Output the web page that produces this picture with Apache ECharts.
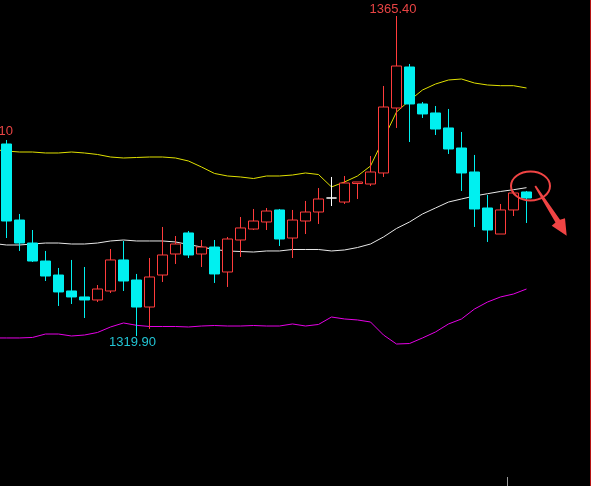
<!DOCTYPE html>
<html>
<head>
<meta charset="utf-8">
<script src="https://cdn.jsdelivr.net/npm/echarts@6/dist/echarts.min.js"></script>
<style>
html,body{margin:0;padding:0;background:#000;}
#main{width:591px;height:486px;}
</style>
</head>
<body>
<div id="main"></div>
<script>
// OHLC values (visible bars)
const open  = [1347.20,1336.39,1333.12,1330.56,1328.57,1326.30,1325.45,1325.02,1326.30,1330.71,1327.86,1324.02,1328.57,1331.56,1334.55,1331.56,1332.55,1329.00,1333.55,1335.11,1336.11,1337.82,1333.83,1336.25,1337.53,1339.52,1338.95,1341.58,1341.51,1343.08,1352.32,1358.15,1352.89,1351.61,1349.48,1346.63,1343.22,1338.10,1334.40,1337.82,1340.38];
const close = [1336.25,1333.12,1330.56,1328.43,1326.16,1325.45,1325.02,1326.58,1330.71,1327.72,1324.02,1328.29,1331.42,1332.98,1331.42,1332.55,1328.72,1333.69,1335.26,1336.25,1337.67,1333.69,1336.39,1337.53,1339.38,1339.52,1341.65,1341.80,1343.22,1352.46,1358.29,1352.89,1351.47,1349.33,1346.49,1343.08,1337.96,1334.97,1337.82,1340.23,1339.52];
const high  = [1347.77,1337.25,1334.97,1331.99,1329.57,1330.71,1329.71,1327.15,1332.27,1333.41,1328.72,1330.99,1335.40,1334.12,1334.83,1333.55,1333.55,1333.98,1336.82,1337.96,1338.10,1337.96,1337.82,1339.10,1340.94,1342.51,1342.65,1341.80,1345.49,1355.45,1365.40,1358.58,1353.17,1352.60,1352.18,1348.91,1345.64,1339.95,1338.67,1340.52,1340.52];
const low   = [1333.83,1331.99,1330.42,1327.72,1324.17,1324.45,1322.46,1324.73,1326.01,1326.30,1319.90,1320.90,1327.58,1330.14,1330.99,1329.71,1327.44,1326.87,1331.13,1334.97,1334.97,1332.70,1330.99,1334.40,1335.83,1338.38,1338.67,1339.38,1341.23,1342.51,1349.48,1347.48,1350.90,1348.48,1345.78,1340.52,1335.40,1333.27,1334.40,1336.96,1335.97];
// Bollinger bands; first value belongs to the bar just left of the view
const bollUpper = [1346.42,1346.20,1346.06,1346.06,1345.92,1345.92,1346.06,1345.92,1345.71,1345.35,1345.21,1345.28,1345.35,1345.35,1345.21,1344.78,1343.93,1343.01,1342.65,1342.51,1342.29,1342.65,1342.65,1342.79,1343.08,1342.86,1341.09,1341.80,1342.65,1344.07,1347.91,1351.75,1353.39,1354.88,1355.73,1356.30,1356.44,1355.87,1355.59,1355.49,1355.49,1355.16];
const bollMid   = [1333.05,1332.84,1332.84,1332.98,1333.12,1333.12,1332.98,1332.98,1333.12,1333.41,1333.55,1333.41,1333.41,1333.41,1333.27,1332.91,1332.55,1332.20,1331.99,1331.91,1331.84,1331.99,1331.99,1332.20,1332.20,1332.20,1331.99,1332.13,1332.48,1332.98,1333.98,1335.19,1336.11,1337.25,1338.10,1338.95,1339.38,1339.81,1340.13,1340.45,1340.70,1340.99];
const bollLower = [1319.62,1319.62,1319.62,1319.69,1320.18,1320.18,1319.90,1320.04,1320.40,1321.18,1321.75,1321.42,1321.25,1321.25,1321.25,1321.18,1321.32,1321.39,1321.32,1321.32,1321.39,1321.32,1321.32,1321.61,1321.32,1321.54,1322.60,1322.32,1322.18,1321.89,1320.04,1318.76,1318.83,1319.62,1320.47,1321.61,1322.32,1323.74,1324.73,1325.45,1325.87,1326.58];
// high of the off-screen bar just left of the view (only the tail of its label shows)
const prevHigh = 1348.10;
const categories = bollMid.map((_, i) => String(i));
const yRange = [1298.57, 1367.675];

const candleData = [['-', '-', '-', '-']].concat(open.map((o, i) => [o, close[i], low[i], high[i]]));

const chart = echarts.init(document.getElementById('main'), null, {renderer: 'canvas'});
chart.setOption({
  backgroundColor: '#000000',
  animation: false,
  grid: {left: -13, right: 58, top: 0, bottom: 0, containLabel: false, outerBoundsMode: 'none'},
  xAxis: {type: 'category', data: categories, show: false, boundaryGap: true},
  yAxis: {type: 'value', min: yRange[0], max: yRange[1], show: false, splitLine: {show: false}},
  series: [
    {type: 'line', data: bollUpper, symbol: 'none', lineStyle: {width: 1, color: '#e0e000'}, z: 1},
    {type: 'line', data: bollMid, symbol: 'none', lineStyle: {width: 1, color: '#e8e8e8'}, z: 1},
    {type: 'line', data: bollLower, symbol: 'none', lineStyle: {width: 1, color: '#e600e6'}, z: 1},
    {
      type: 'candlestick', data: candleData, barWidth: 10, z: 3,
      itemStyle: {
        color: '#000000', color0: '#00f0f0',
        borderColor: '#ff3c3c', borderColor0: '#00f0f0',
        borderColorDoji: '#ffffff', borderWidth: 1
      }
    }
  ]
});

const px = (i, v) => chart.convertToPixel({xAxisIndex: 0, yAxisIndex: 0}, [i, v]);
const maxH = Math.max(...high), iMax = high.indexOf(maxH) + 1;
const minL = Math.min(...low), iMin = low.indexOf(minL) + 1;
const pHigh = px(iMax, maxH), pLow = px(iMin, minL);
const pPrev = px(0, prevHigh);
const font = '13px "Liberation Sans", Arial, sans-serif';
const last = open.length;
const pl = px(last, open[last - 1]);
const cx = pl[0] + 4, cy = pl[1] - 6;
const arrowPts = [[4,0.5],[5.5,-0.5],[29.5,33.8],[34.5,32.3],[36.2,49.7],[21.2,39.7],[25,36.5]].map(p => [cx + p[0], cy + p[1]]);

chart.setOption({
  graphic: [
    {type: 'text', x: pHigh[0] - 3.5, y: pHigh[1], z: 10,
     style: {text: maxH.toFixed(2), fill: '#e84444', font, textAlign: 'center', align: 'center', textVerticalAlign: 'bottom', verticalAlign: 'bottom'}},
    {type: 'text', x: pLow[0] - 4, y: pLow[1], z: 10,
     style: {text: minL.toFixed(2), fill: '#22c4d4', font, textAlign: 'center', align: 'center', textVerticalAlign: 'top', verticalAlign: 'top'}},
    {type: 'text', x: pPrev[0] - 4, y: pPrev[1], z: 10,
     style: {text: prevHigh.toFixed(2), fill: '#e84444', font, textAlign: 'center', align: 'center', textVerticalAlign: 'bottom', verticalAlign: 'bottom'}},
    {type: 'ellipse', z: 10, shape: {cx: cx, cy: cy, rx: 19.5, ry: 14.5},
     style: {fill: 'none', stroke: '#f04444', lineWidth: 2}},
    {type: 'polygon', z: 10, shape: {points: arrowPts}, style: {fill: '#f04444'}},
    {type: 'line', z: 10, shape: {x1: 590.5, y1: 0, x2: 590.5, y2: 486}, style: {stroke: '#b41414', lineWidth: 1}},
    {type: 'line', z: 10, shape: {x1: 507.5, y1: 477, x2: 507.5, y2: 486}, style: {stroke: '#9a9a9a', lineWidth: 1}}
  ]
});
</script>
</body>
</html>
